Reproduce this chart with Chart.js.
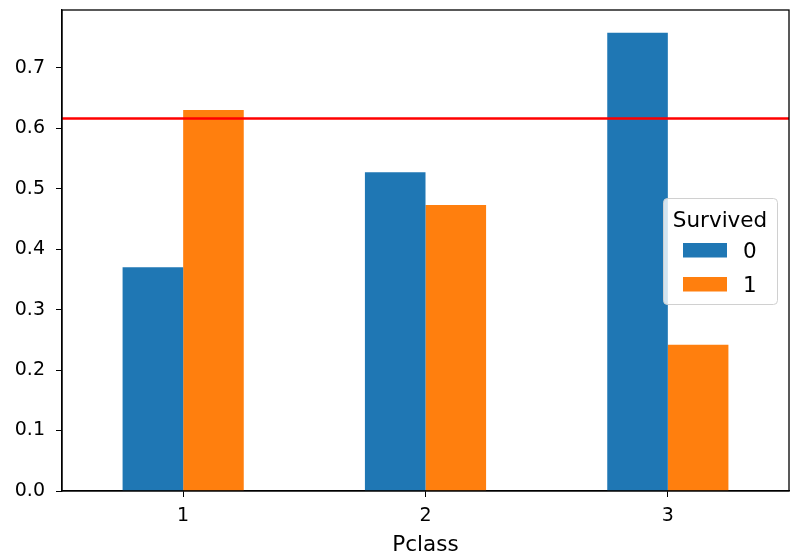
<!DOCTYPE html>
<html><head><meta charset="utf-8">
<script src="https://cdn.jsdelivr.net/npm/chart.js@4"></script>
<style>html,body{margin:0;padding:0;background:#fff}#wrap{width:803px;height:556px}</style>
</head><body><div id="wrap"><canvas id="c" width="803" height="556"></canvas></div>
<script>
const categories = ['1', '2', '3'];
const survived0 = [0.370, 0.527, 0.758];
const survived1 = [0.630, 0.473, 0.242];
const seriesLabels = ['0', '1'];
const refLine = [0.616];
const yTicks = [0.0, 0.1, 0.2, 0.3, 0.4, 0.5, 0.6, 0.7];
const FONT = 'DejaVu Sans';

const framePlugin = {
  id: 'frame',
  afterDatasetsDraw(chart) {
    const {ctx, chartArea: a, scales} = chart;
    ctx.save();
    const yv = scales.y.getPixelForValue(refLine[0]);
    ctx.strokeStyle = '#ff0000'; ctx.lineWidth = 2.5;
    ctx.beginPath(); ctx.moveTo(a.left, yv); ctx.lineTo(a.right, yv); ctx.stroke();
    ctx.strokeStyle = '#000'; ctx.lineWidth = 1.3;
    ctx.strokeRect(a.left, a.top, a.right - a.left, a.bottom - a.top);
    const lx = 663, ly = 198, lw = 114, lh = 106;
    ctx.fillStyle = 'rgba(255,255,255,0.8)';
    ctx.strokeStyle = '#d0d0d0'; ctx.lineWidth = 1;
    ctx.beginPath(); ctx.roundRect(lx + 0.5, ly + 0.5, lw, lh, 4); ctx.fill(); ctx.stroke();
    ctx.fillStyle = '#000'; ctx.font = '21.5px "' + FONT + '"';
    ctx.textAlign = 'center'; ctx.textBaseline = 'alphabetic';
    ctx.fillText('Survived', 720, 227);
    const cols = chart.data.datasets.map(d => d.backgroundColor);
    ctx.textAlign = 'left';
    chart.data.datasets.forEach((d, i) => {
      const base = 258 + i * 34;
      ctx.fillStyle = cols[i];
      ctx.fillRect(683, base - 15, 44, 14.5);
      ctx.fillStyle = '#000';
      ctx.fillText(d.label, 743, base);
    });
    ctx.restore();
  }
};

new Chart(document.getElementById('c'), {
  type: 'bar',
  data: {
    labels: categories,
    datasets: [
      {label: seriesLabels[0], data: survived0, backgroundColor: '#1f77b4', categoryPercentage: 0.5, barPercentage: 1.0},
      {label: seriesLabels[1], data: survived1, backgroundColor: '#ff7f0e', categoryPercentage: 0.5, barPercentage: 1.0}
    ]
  },
  options: {
    responsive: false, animation: false,
    layout: {padding: {left: 0, right: 14, top: 10, bottom: 0}},
    plugins: {legend: {display: false}, tooltip: {enabled: false}},
    scales: {
      x: {
        offset: true,
        grid: {display: true, drawOnChartArea: false, drawTicks: true, tickLength: 6, color: '#000', offset: false},
        border: {display: true, color: '#000', width: 1.3},
        ticks: {color: '#000', font: {family: FONT, size: 19}, padding: 8, maxRotation: 0},
        title: {display: true, text: 'Pclass', color: '#000', font: {family: FONT, size: 21.5, lineHeight: 1.0}, padding: 0},
        afterFit(s) { s.height = 65; s.paddingLeft = 0; s.paddingRight = 0; }
      },
      y: {
        min: 0, max: 0.7955,
        afterBuildTicks(s) { s.ticks = yTicks.map(v => ({value: v})); },
        grid: {display: true, drawOnChartArea: false, drawTicks: true, tickLength: 6, color: '#000'},
        border: {display: true, color: '#000', width: 1.3},
        ticks: {color: '#000', font: {family: FONT, size: 19}, padding: 11, callback: v => Number(v).toFixed(1)},
        afterFit(s) { s.width = 62; s.paddingTop = 0; s.paddingBottom = 0; }
      }
    }
  },
  plugins: [framePlugin]
});
</script></body></html>
